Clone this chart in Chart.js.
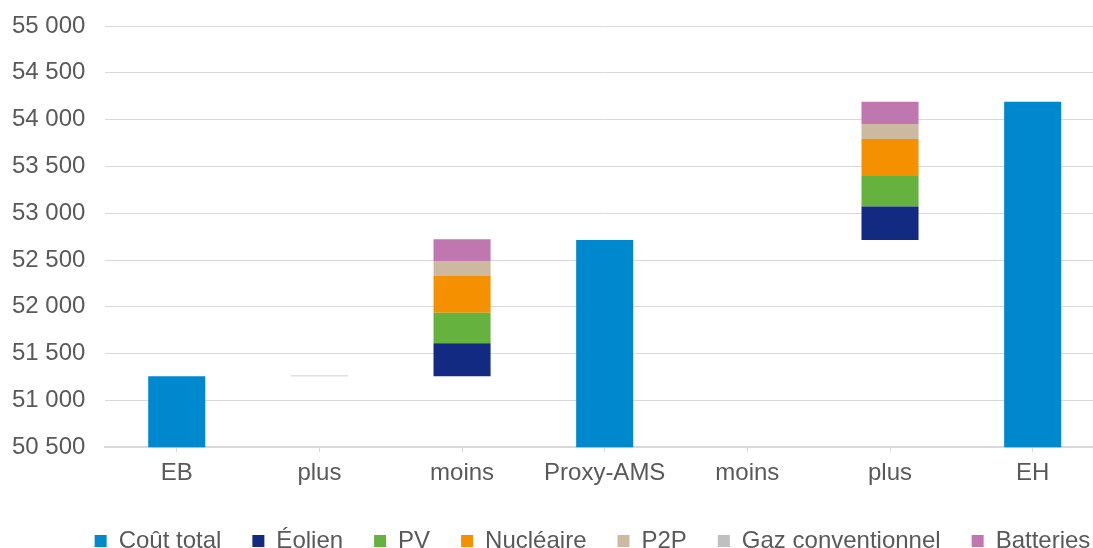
<!DOCTYPE html>
<html>
<head>
<meta charset="utf-8">
<script src="https://cdn.jsdelivr.net/npm/chart.js@4"></script>
<style>
  html, body { margin: 0; padding: 0; overflow: hidden; background: #fff; }
  #wrap { width: 1110px; height: 560px; }
</style>
</head>
<body>
<div id="wrap"><canvas id="waterfall" width="1110" height="560"></canvas></div>
<script>
// categories of the waterfall
const categories = ["EB", "plus", "moins", "Proxy-AMS", "moins", "plus", "EH"];

// invisible base under the floating steps
const baseValues = [0, 51257, 51257, 0, 52715, 52715, 0];

// values
const coutTotal = [51257, 0, 0, 52715, 0, 0, 54190];
const eolien = [0, 0, 353, 0, 0, 357, 0];
const pv = [0, 0, 326, 0, 0, 325, 0];
const nucleaire = [0, 0, 393, 0, 0, 396, 0];
const p2p = [0, 0, 161, 0, 0, 161, 0];
const gazConventionnel = [0, 10, 0, 0, 0, 0, 0];
const batteries = [0, 0, 232, 0, 0, 236, 0];

const yTicks = { min: 50500, max: 55000, step: 500 };

const textColor = "#595959";
const gridColor = "#d9d9d9";
const fontFamily = "'Liberation Sans', Arial, sans-serif";

function ds(label, data, color) {
  return { label: label, data: data, backgroundColor: color, borderWidth: 0 };
}

const data = {
  labels: categories,
  datasets: [
    ds("base", baseValues, "rgba(0,0,0,0)"),
    ds("Coût total", coutTotal, "#0088cf"),
    ds("Éolien", eolien, "#132a82"),
    ds("PV", pv, "#66b23e"),
    ds("Nucléaire", nucleaire, "#f59100"),
    ds("P2P", p2p, "#cdb9a0"),
    ds("Gaz conventionnel", gazConventionnel, "#c0c0c0"),
    ds("Batteries", batteries, "#c076ae"),
  ],
};

// nudge the legend to where it sits in the original
const legendShift = {
  id: "legendShift",
  afterLayout(chart) {
    const lg = chart.legend;
    lg.left += 36;
    lg.right += 36;
    lg.top += 3;
    lg.bottom += 3;
  },
};

const options = {
  responsive: false,
  animation: false,
  layout: { padding: { top: 26, left: 9, right: 6, bottom: 0 } },
  datasets: { bar: { categoryPercentage: 1, barPercentage: 0.4 } },
  scales: {
    x: {
      stacked: true,
      offset: true,
      border: { color: gridColor, width: 2 },
      grid: { drawOnChartArea: false, color: gridColor, tickLength: 5, offset: false },
      ticks: { color: textColor, font: { family: fontFamily, size: 24 }, padding: 7 },
    },
    y: {
      stacked: true,
      min: yTicks.min,
      max: yTicks.max,
      border: { display: false },
      // invisible tick marks make the gap between labels and plot
      grid: { color: gridColor, drawTicks: true, tickLength: 17, tickColor: "rgba(0,0,0,0)" },
      ticks: {
        stepSize: yTicks.step,
        color: textColor,
        padding: 3,
        font: { family: fontFamily, size: 24 },
        callback: (v) => String(v).replace(/\B(?=(\d{3})+(?!\d))/g, " "),
      },
    },
  },
  plugins: {
    tooltip: { enabled: false },
    legend: {
      position: "bottom",
      labels: {
        color: textColor,
        font: { family: fontFamily, size: 24 },
        boxWidth: 12,
        boxHeight: 12,
        padding: 31,
        filter: (item) => item.text !== "base",
      },
    },
  },
};

const ctx = document.getElementById("waterfall").getContext("2d");
new Chart(ctx, { type: "bar", data: data, options: options, plugins: [legendShift] });
</script>
</body>
</html>
